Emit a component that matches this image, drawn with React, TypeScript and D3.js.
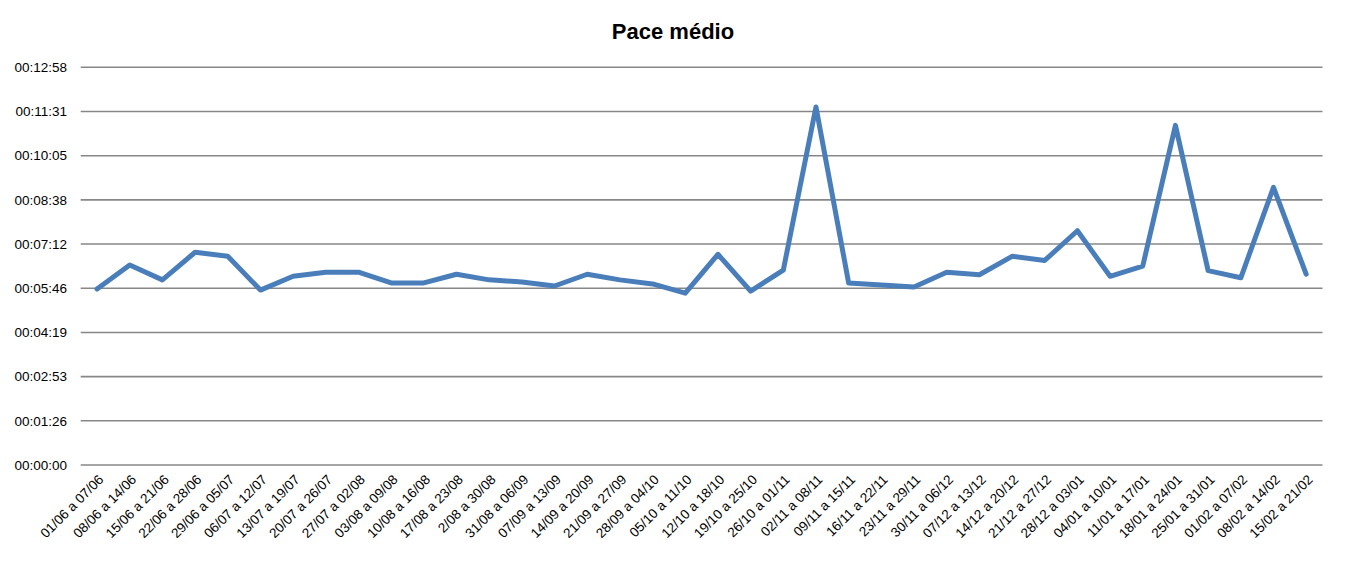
import React from "react";
import * as d3 from "d3";

const categories: string[] = [
  "01/06 a 07/06", "08/06 a 14/06", "15/06 a 21/06", "22/06 a 28/06", "29/06 a 05/07",
  "06/07 a 12/07", "13/07 a 19/07", "20/07 a 26/07", "27/07 a 02/08", "03/08 a 09/08",
  "10/08 a 16/08", "17/08 a 23/08", "2/08 a 30/08", "31/08 a 06/09", "07/09 a 13/09",
  "14/09 a 20/09", "21/09 a 27/09", "28/09 a 04/10", "05/10 a 11/10", "12/10 a 18/10",
  "19/10 a 25/10", "26/10 a 01/11", "02/11 a 08/11", "09/11 a 15/11", "16/11 a 22/11",
  "23/11 a 29/11", "30/11 a 06/12", "07/12 a 13/12", "14/12 a 20/12", "21/12 a 27/12",
  "28/12 a 03/01", "04/01 a 10/01", "11/01 a 17/01", "18/01 a 24/01", "25/01 a 31/01",
  "01/02 a 07/02", "08/02 a 14/02", "15/02 a 21/02",
];

// pace in seconds
const paceSeconds: number[] = [
  344, 391, 362, 416, 408, 342, 369, 377, 377, 356,
  356, 373, 362, 358, 350, 373, 362, 354, 336, 412,
  340, 381, 700, 356, 352, 348, 377, 372, 408, 400,
  458, 369, 389, 664, 380, 366, 543, 373,
];

// tick values in seconds (multiples of 0.001 day)
const tickValues: number[] = [0, 86.4, 172.8, 259.2, 345.6, 432, 518.4, 604.8, 691.2, 777.6];
const tickLabels: string[] = [
  "00:00:00", "00:01:26", "00:02:53", "00:04:19", "00:05:46",
  "00:07:12", "00:08:38", "00:10:05", "00:11:31", "00:12:58",
];

const W = 1366;
const H = 564;
const left = 80.7;
const right = 1322.5;
const top = 67.3;
const bottom = 465;
const FONT = "'Liberation Sans', Arial, sans-serif";

export default function App() {
  const x = d3.scaleBand<string>().domain(categories).range([left, right]);
  const y = d3.scaleLinear().domain([0, 777.6]).range([bottom, top]);
  const line = d3
    .line<number>()
    .x((_, i) => (x(categories[i]) as number) + x.bandwidth() / 2)
    .y((d) => y(d));

  return (
    <svg width={W} height={H} style={{ position: "absolute", left: 0, top: 0, background: "#fff" }}>
      <rect x={0} y={0} width={W} height={H} fill="#fff" />
      <text x={673} y={39} textAnchor="middle" fontFamily={FONT} fontWeight="bold" fontSize={22} fill="#000">
        Pace médio
      </text>
      {tickValues.map((t, i) => (
        <g key={i}>
          <line x1={left} x2={right} y1={y(t)} y2={y(t)} stroke="#878787" strokeWidth={1.6} />
          <text x={67} y={y(t)} dy="0.35em" textAnchor="end" fontFamily={FONT} fontSize={13.5} fill="#000">
            {tickLabels[i]}
          </text>
        </g>
      ))}
      <path d={line(paceSeconds) || ""} fill="none" stroke="#4A7EBB" strokeWidth={5} strokeLinejoin="round" strokeLinecap="round" />
      {categories.map((c) => {
        const cx = (x(c) as number) + x.bandwidth() / 2;
        return (
          <text
            key={c}
            transform={`translate(${cx + 4},${bottom + 12}) rotate(-45)`}
            textAnchor="end"
            dy="0.35em"
            fontFamily={FONT}
            fontSize={13.5}
            fill="#000"
          >
            {c}
          </text>
        );
      })}
    </svg>
  );
}
